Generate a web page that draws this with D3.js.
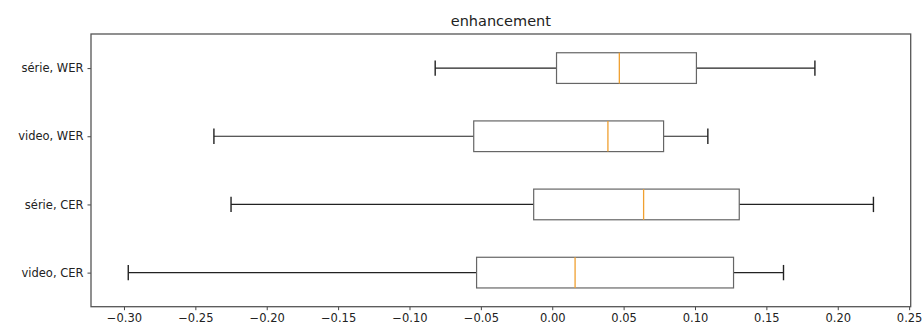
<!DOCTYPE html>
<html>
<head>
<meta charset="utf-8">
<script src="https://cdn.jsdelivr.net/npm/d3@7"></script>
<style>
  html, body { margin: 0; padding: 0; background: #fff; }
  svg { display: block; font-family: "DejaVu Sans", sans-serif; }
</style>
</head>
<body>
<svg id="chart" width="922" height="329"></svg>
<script>
// Categories from bottom (position 1) to top (position 4)
const categories = ["video, CER", "série, CER", "video, WER", "série, WER"];
const whiskerLow  = [-0.297, -0.225, -0.237, -0.082];
const q1          = [-0.053, -0.013, -0.055,  0.003];
const medians     = [ 0.016,  0.064,  0.039,  0.047];
const q3          = [ 0.127,  0.131,  0.078,  0.101];
const whiskerHigh = [ 0.162,  0.225,  0.109,  0.184];
const xTicks = [-0.30, -0.25, -0.20, -0.15, -0.10, -0.05, 0.00, 0.05, 0.10, 0.15, 0.20, 0.25];
const title = "enhancement";

const W = 922, H = 329;
const margin = {left: 91, right: 11.3, top: 34, bottom: 22.3};
const svg = d3.select("#chart");

const dmin = d3.min(whiskerLow), dmax = d3.max(whiskerHigh);
const pad = (dmax - dmin) * 0.05;
const x = d3.scaleLinear().domain([dmin - pad, dmax + pad]).range([margin.left, W - margin.right]);
const y = d3.scaleLinear().domain([0.5, categories.length + 0.5]).range([H - margin.bottom, margin.top]);

const boxW = 0.45, capW = 0.225;
const data = categories.map((c, i) => ({
  cat: c, pos: i + 1, lo: whiskerLow[i], q1: q1[i], med: medians[i], q3: q3[i], hi: whiskerHigh[i]
}));

const g = svg.append("g");
const rows = g.selectAll("g.row").data(data).join("g").attr("class", "row");

// whiskers
rows.append("line").attr("x1", d => x(d.lo)).attr("x2", d => x(d.q1))
  .attr("y1", d => y(d.pos)).attr("y2", d => y(d.pos)).attr("stroke", "#222").attr("stroke-width", 1.2);
rows.append("line").attr("x1", d => x(d.q3)).attr("x2", d => x(d.hi))
  .attr("y1", d => y(d.pos)).attr("y2", d => y(d.pos)).attr("stroke", "#222").attr("stroke-width", 1.2);
// caps
rows.append("line").attr("x1", d => x(d.lo)).attr("x2", d => x(d.lo))
  .attr("y1", d => y(d.pos - capW / 2)).attr("y2", d => y(d.pos + capW / 2)).attr("stroke", "#222").attr("stroke-width", 1.4);
rows.append("line").attr("x1", d => x(d.hi)).attr("x2", d => x(d.hi))
  .attr("y1", d => y(d.pos - capW / 2)).attr("y2", d => y(d.pos + capW / 2)).attr("stroke", "#222").attr("stroke-width", 1.4);
// boxes
rows.append("rect")
  .attr("x", d => x(d.q1)).attr("width", d => x(d.q3) - x(d.q1))
  .attr("y", d => y(d.pos + boxW / 2)).attr("height", d => y(d.pos - boxW / 2) - y(d.pos + boxW / 2))
  .attr("fill", "none").attr("stroke", "#666").attr("stroke-width", 1.2);
// medians
rows.append("line").attr("x1", d => x(d.med)).attr("x2", d => x(d.med))
  .attr("y1", d => y(d.pos - boxW / 2)).attr("y2", d => y(d.pos + boxW / 2))
  .attr("stroke", "#f0a030").attr("stroke-width", 1.3);

// axes
const xAxis = d3.axisBottom(x).tickValues(xTicks).tickFormat(d => d3.format(".2f")(d).replace("-", "\u2212")).tickSize(3.5).tickPadding(4);
const gx = svg.append("g").attr("transform", `translate(0,${H - margin.bottom})`).call(xAxis);
const yAxis = d3.axisLeft(y).tickValues(data.map(d => d.pos)).tickFormat((d, i) => categories[i]).tickSize(3.5).tickPadding(4);
const gy = svg.append("g").attr("transform", `translate(${margin.left},0)`).call(yAxis);
[gx, gy].forEach(a => {
  a.select(".domain").remove();
  a.selectAll(".tick line").attr("stroke", "#444").attr("stroke-width", 1);
  a.selectAll(".tick text").attr("fill", "#222").style("font-size", "11.5px").style("font-family", "DejaVu Sans, sans-serif");
});

// frame
svg.append("rect").attr("x", margin.left).attr("y", margin.top)
  .attr("width", W - margin.right - margin.left).attr("height", H - margin.bottom - margin.top)
  .attr("fill", "none").attr("stroke", "#555").attr("stroke-width", 1.3);

// title
svg.append("text").attr("x", (margin.left + W - margin.right) / 2).attr("y", margin.top - 8)
  .attr("text-anchor", "middle").attr("fill", "#222").style("font-size", "14.5px").text(title);
</script>
</body>
</html>
